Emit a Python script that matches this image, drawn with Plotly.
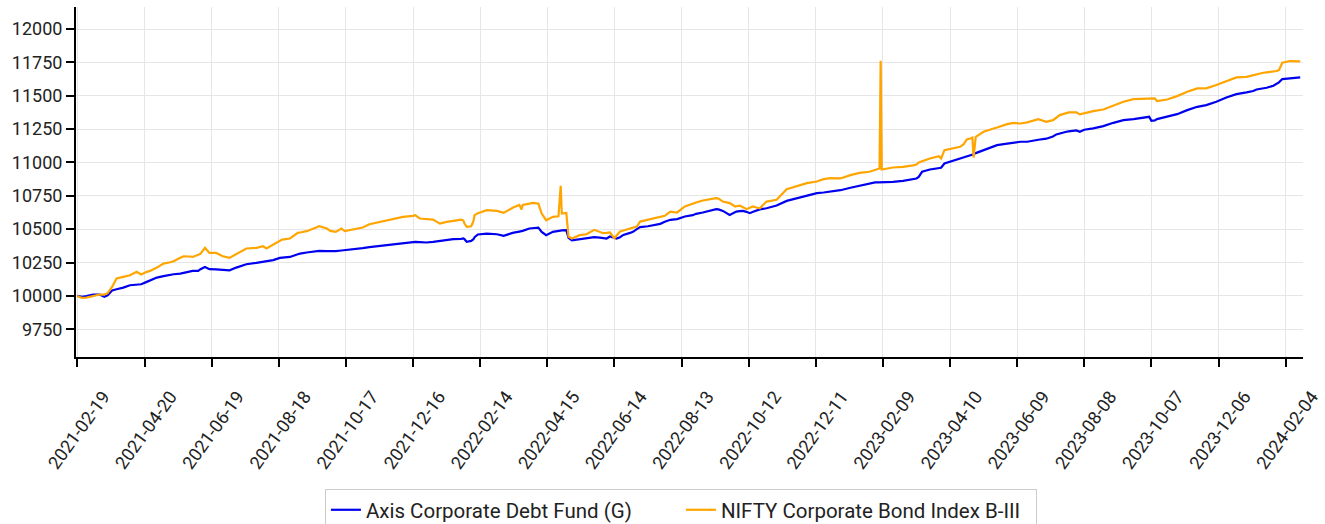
import pandas as pd
import plotly.graph_objects as go

START_DATE = "2021-02-19"

# day offsets from START_DATE
day_offsets = [
    0, 4, 8, 14, 20, 24, 27, 31, 35, 41, 47, 53, 57, 62, 65, 71, 77, 83, 86, 92,
    95, 100, 103, 108, 110, 114, 118, 124, 127, 130, 136, 142, 151, 160, 166, 169, 172, 175, 181, 183,
    190, 197, 199, 205, 214, 216, 223, 226,
    231, 236, 239, 246, 255, 261, 276, 291, 300, 302, 306, 312, 318, 324, 330, 336, 343, 345, 346, 348,
    352, 354, 355, 358, 366, 375, 381, 389, 395, 397, 398, 404, 407, 412, 415, 419, 425, 430, 432, 433,
    437, 439, 442, 449,
    455, 462, 467, 470, 473, 476, 480, 482, 485, 488, 494, 497, 500, 503, 510, 512, 518, 521, 525, 530,
    536, 543, 550, 553, 559, 562, 568, 571, 573, 577, 583, 588, 589, 592, 595, 598, 601, 604, 607, 610,
    616, 625, 634, 643, 652, 661, 667, 673,
    682, 691, 699, 708, 713, 716, 717, 718, 719, 729, 738, 747, 750, 752, 755, 762, 770, 772, 775, 783,
    789, 792, 795, 798, 800, 801, 803, 810, 813, 819, 822, 828, 831, 837, 840, 843, 849, 851, 857, 859,
    866, 869, 872, 875, 878, 884, 886, 892, 893, 896,
    900, 908, 917, 926, 935, 944, 956, 958, 960, 963, 965, 974, 983, 992, 1001, 1009, 1018, 1027, 1036, 1045,
    1051, 1054, 1060, 1063, 1069, 1072, 1074, 1077, 1084, 1093,
]

axis_fund = [
    10000, 9993, 9998, 10010, 10010, 9993, 10005, 10040, 10050, 10062, 10080, 10083, 10087, 10105, 10115, 10137, 10148, 10160, 10162, 10167,
    10172, 10185, 10187, 10188, 10200, 10217, 10200, 10198, 10197, 10195, 10192, 10212, 10237, 10247, 10255, 10258, 10262, 10268, 10285, 10287,
    10292, 10312, 10317, 10325, 10337, 10337, 10336, 10335,
    10335, 10340, 10342, 10347, 10358, 10365, 10380, 10397, 10405, 10405, 10403, 10400, 10405, 10412, 10418, 10425, 10428, 10430, 10425, 10405,
    10412, 10425, 10440, 10460, 10467, 10462, 10450, 10472, 10482, 10485, 10487, 10505, 10508, 10512, 10480, 10455, 10480, 10488, 10490, 10491,
    10492, 10435, 10417, 10425,
    10435, 10440, 10437, 10435, 10430, 10445, 10432, 10430, 10440, 10457, 10472, 10482, 10500, 10515, 10522, 10525, 10537, 10540, 10555, 10570,
    10575, 10595, 10605, 10615, 10625, 10632, 10645, 10650, 10648, 10637, 10607, 10625, 10632, 10635, 10637, 10630, 10620, 10630, 10640, 10648,
    10657, 10677, 10712, 10732, 10752, 10770, 10775, 10782,
    10792, 10810, 10825, 10837, 10850, 10850, 10850, 10850, 10850, 10855, 10862, 10872, 10880, 10892, 10930, 10947, 10955, 10960, 10992, 11012,
    11027, 11037, 11045, 11055, 11060, 11062, 11070, 11090, 11100, 11120, 11130, 11138, 11142, 11152, 11155, 11155, 11155, 11157, 11167, 11170,
    11178, 11185, 11195, 11210, 11218, 11230, 11233, 11242, 11240, 11230,
    11245, 11255, 11272, 11297, 11317, 11325, 11337, 11342, 11312, 11315, 11325, 11342, 11362, 11392, 11417, 11430, 11455, 11487, 11512, 11525,
    11535, 11547, 11555, 11560, 11575, 11587, 11600, 11625, 11630, 11637,
]

nifty_index = [
    10000, 9985, 9987, 10000, 10010, 10010, 10020, 10067, 10130, 10142, 10155, 10180, 10160, 10180, 10187, 10212, 10242, 10252, 10260, 10285,
    10297, 10295, 10292, 10308, 10315, 10360, 10322, 10322, 10310, 10297, 10285, 10312, 10355, 10360, 10372, 10355, 10370, 10380, 10415, 10422,
    10430, 10472, 10475, 10485, 10515, 10522, 10505, 10487,
    10480, 10505, 10485, 10497, 10512, 10537, 10562, 10592, 10600, 10605, 10580, 10577, 10572, 10542, 10555, 10562, 10572, 10565, 10542, 10517,
    10522, 10560, 10605, 10620, 10642, 10637, 10622, 10660, 10682, 10647, 10682, 10692, 10697, 10692, 10617, 10567, 10592, 10597, 10825, 10617,
    10622, 10445, 10430, 10455,
    10462, 10495, 10480, 10470, 10472, 10475, 10432, 10455, 10482, 10490, 10507, 10512, 10520, 10557, 10570, 10572, 10582, 10590, 10600, 10632,
    10625, 10670, 10695, 10700, 10715, 10720, 10732, 10732, 10730, 10707, 10695, 10670, 10672, 10677, 10665, 10650, 10660, 10670, 10662, 10657,
    10707, 10720, 10800, 10825, 10845, 10857, 10875, 10882,
    10880, 10905, 10922, 10930, 10945, 10955, 10955, 11762, 10947, 10962, 10967, 10978, 10985, 11000, 11010, 11030, 11047, 11030, 11092, 11105,
    11117, 11135, 11172, 11180, 11187, 11037, 11192, 11230, 11240, 11255, 11262, 11280, 11287, 11297, 11295, 11292, 11300, 11305, 11322, 11325,
    11305, 11312, 11317, 11335, 11355, 11370, 11375, 11375, 11375, 11360,
    11370, 11385, 11397, 11425, 11455, 11475, 11480, 11480, 11478, 11480, 11460, 11472, 11497, 11530, 11555, 11555, 11580, 11610, 11637, 11642,
    11655, 11660, 11672, 11675, 11680, 11685, 11692, 11747, 11760, 11757,
]

y_ticks = [9750, 10000, 10250, 10500, 10750, 11000, 11250, 11500, 11750, 12000]
x_tick_labels = [
    "2021-02-19", "2021-04-20", "2021-06-19", "2021-08-18", "2021-10-17", "2021-12-16",
    "2022-02-14", "2022-04-15", "2022-06-14", "2022-08-13", "2022-10-12", "2022-12-11",
    "2023-02-09", "2023-04-10", "2023-06-09", "2023-08-08", "2023-10-07", "2023-12-06", "2024-02-04",
]

dates = pd.to_datetime(START_DATE) + pd.to_timedelta(day_offsets, unit="D")

fig = go.Figure()
fig.add_trace(go.Scatter(x=dates, y=axis_fund, mode="lines", name="Axis Corporate Debt Fund (G)",
                         line=dict(color="#0000ee", width=2.2)))
fig.add_trace(go.Scatter(x=dates, y=nifty_index, mode="lines", name="NIFTY Corporate Bond Index B-III",
                         line=dict(color="#ffa500", width=2.2)))

font = "Roboto, 'Noto Sans', sans-serif"
fig.update_layout(
    width=1325, height=524,
    margin=dict(l=76, r=22, t=7, b=167, autoexpand=False),
    paper_bgcolor="white", plot_bgcolor="white",
    font=dict(family=font, size=18, color="#222"),
    showlegend=True,
    legend=dict(orientation="h", x=0.493, xanchor="center", y=-0.377, yanchor="top",
                bordercolor="#cccccc", borderwidth=1, font=dict(size=20.5, color="#222"),
                entrywidth=310, tracegroupgap=0),
)
fig.update_xaxes(
    type="date",
    range=["2021-02-17 18:00", "2024-02-19 12:00"],
    tickmode="array",
    tickvals=pd.to_datetime(x_tick_labels),
    ticktext=x_tick_labels,
    tickangle=-54,
    ticklabelshift=26,
    ticklabelstandoff=12,
    automargin=False,
    showgrid=True, gridcolor="#e6e6e6", gridwidth=1,
    showline=True, linecolor="black", linewidth=2,
    ticks="outside", ticklen=8, tickcolor="black", tickwidth=2,
    zeroline=False,
    tickfont=dict(size=18, color="#222"),
)
fig.update_yaxes(
    range=[9542, 12165],
    tickmode="array", tickvals=y_ticks, ticktext=[str(v) for v in y_ticks],
    automargin=False,
    showgrid=True, gridcolor="#e6e6e6", gridwidth=1,
    showline=True, linecolor="black", linewidth=2,
    ticks="outside", ticklen=8, tickcolor="black", tickwidth=2,
    zeroline=False,
    tickfont=dict(size=18, color="#222"),
)

fig.write_html("out.html", config={"displayModeBar": False},
               post_script="document.body.style.margin='0px';")
